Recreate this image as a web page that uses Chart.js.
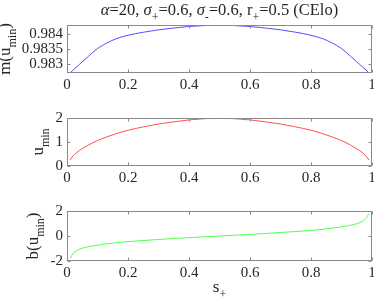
<!DOCTYPE html>
<html><head><meta charset="utf-8">
<script src="https://cdn.jsdelivr.net/npm/chart.js@4/dist/chart.umd.min.js"></script>
<style>
html,body{margin:0;padding:0;background:#fff;}
#wrap{position:relative;width:374px;height:303px;overflow:hidden;}
.c{position:absolute;left:0;width:374px;}
</style></head><body>
<div id="wrap">
<div class="c" style="top:0;height:95px"><canvas id="c1"></canvas></div>
<div class="c" style="top:95px;height:95px"><canvas id="c2"></canvas></div>
<div class="c" style="top:190px;height:113px"><canvas id="c3"></canvas></div>
</div>
<script>
// ---- data ----
const sPlus   = [0.01,0.02,0.03,0.04,0.05,0.07,0.10,0.13,0.16,0.20,0.25,0.30,0.35,0.40,0.45,0.50,
                 0.55,0.60,0.65,0.70,0.75,0.80,0.84,0.87,0.90,0.93,0.95,0.96,0.97,0.98,0.99];
const mValues = [0.98271,0.98281,0.98290,0.98299,0.98308,0.98326,0.98352,0.98370,0.98384,0.98396,0.98406,0.98414,0.98420,0.98425,0.98428,0.98430,
                 0.98428,0.98425,0.98420,0.98414,0.98406,0.98396,0.98384,0.98370,0.98352,0.98326,0.98308,0.98299,0.98290,0.98281,0.98271];
const uValues = [0.25,0.42,0.54,0.64,0.72,0.87,1.06,1.21,1.34,1.49,1.63,1.75,1.84,1.92,1.97,1.99,
                 1.97,1.92,1.84,1.75,1.63,1.49,1.34,1.21,1.06,0.87,0.72,0.64,0.54,0.42,0.25];
const bValues = [-1.8,-1.4,-1.2,-1.07,-0.98,-0.86,-0.73,-0.63,-0.54,-0.45,-0.36,-0.28,-0.2,-0.13,-0.065,0,
                 0.065,0.13,0.2,0.28,0.36,0.45,0.54,0.63,0.73,0.86,0.98,1.07,1.2,1.4,1.8];
const xTicks = [0,0.2,0.4,0.6,0.8,1];
const mTicks = [0.983,0.9835,0.984];
const uTicks = [0,1,2];
const bTicks = [-2,0,2];

const FONT = 'Liberation Serif';
const TXT = '#262626';
const AX = '#8a8a8a';

function drawRich(ctx, parts, cx, y, size){
  const sub = Math.round(size*0.72);
  const fontOf = p => (p.it?'italic ':'') + (p.sub?sub:size) + 'px "' + FONT + '"';
  let w = 0;
  parts.forEach(p => { ctx.font = fontOf(p); w += ctx.measureText(p.t).width; });
  let x = cx - w/2;
  ctx.textAlign = 'left'; ctx.textBaseline = 'alphabetic';
  parts.forEach(p => {
    ctx.font = fontOf(p);
    ctx.fillText(p.t, x, y + (p.sub ? size*0.38 : 0));
    x += ctx.measureText(p.t).width;
  });
}

const decoPlugin = {
  id: 'deco',
  afterDraw(chart, args, o){
    const {ctx, chartArea:a, scales:{x, y}} = chart;
    ctx.save();
    ctx.strokeStyle = AX; ctx.lineWidth = 1;
    const L = Math.round(a.left)+0.5, R = Math.round(a.right)-0.5, T = Math.round(a.top)+0.5, B = Math.round(a.bottom)-0.5;
    ctx.strokeRect(L, T, R-L, B-T);
    ctx.beginPath();
    xTicks.forEach(v => { const px = Math.round(x.getPixelForValue(v))+0.5;
      ctx.moveTo(px, B); ctx.lineTo(px, B-3); ctx.moveTo(px, T); ctx.lineTo(px, T+3); });
    o.yt.forEach(v => { const py = Math.round(y.getPixelForValue(v))+0.5;
      ctx.moveTo(L, py); ctx.lineTo(L+3, py); ctx.moveTo(R, py); ctx.lineTo(R-3, py); });
    ctx.stroke();
    ctx.fillStyle = TXT;
    ctx.save();
    ctx.translate(o.ylx, (a.top+a.bottom)/2);
    ctx.rotate(-Math.PI/2);
    drawRich(ctx, o.ylabel, 0, 0, 17);
    ctx.restore();
    if (o.title) {
      drawRich(ctx, [
        {t:'α', it:true},{t:'=20, '},{t:'σ', it:true},{t:'+', sub:true},{t:'=0.6, '},
        {t:'σ', it:true},{t:'-', sub:true},{t:'=0.6, r'},{t:'+', sub:true},{t:'=0.5 (CElo)'}
      ], (a.left+a.right)/2, 15, 16.5);
    }
    if (o.xlabel) {
      drawRich(ctx, [{t:'s'},{t:'+', sub:true}], (a.left+a.right)/2, 102, 17);
    }
    ctx.restore();
  }
};

function makeChart(id, vals, color, ymin, ymax, yt, padTop, xh, decoOpts){
  const data = sPlus.map((s,i) => ({x:s, y:vals[i]}));
  return new Chart(document.getElementById(id), {
    type: 'line',
    data: { datasets: [{ data, borderColor: color, borderWidth: 1, pointRadius: 0,
      cubicInterpolationMode: 'monotone', fill: false }] },
    options: {
      responsive: true, maintainAspectRatio: false, animation: false, devicePixelRatio: 1,
      layout: { padding: { top: padTop, left: 0, right: 2, bottom: 0 } },
      plugins: { legend: {display:false}, tooltip: {enabled:false}, title:{display:false}, deco: decoOpts },
      scales: {
        x: { type:'linear', min:0, max:1,
          afterBuildTicks: s => { s.ticks = xTicks.map(v => ({value:v})); },
          afterFit: s => { s.height = xh; s.paddingLeft = 0; s.paddingRight = 0; },
          ticks: { font:{family:FONT, size:15}, color:TXT, padding:3, maxRotation:0, autoSkip:false,
                   callback: v => String(v) },
          grid: { display:false, drawTicks:false }, border: { display:false } },
        y: { min:ymin, max:ymax,
          afterBuildTicks: s => { s.ticks = yt.map(v => ({value:v})); },
          afterFit: s => { s.width = 67; s.paddingTop = 0; s.paddingBottom = 0; },
          ticks: { font:{family:FONT, size:15}, color:TXT, padding:4, autoSkip:false,
                   callback: v => String(v) },
          grid: { display:false, drawTicks:false }, border: { display:false } }
      }
    },
    plugins: [decoPlugin]
  });
}

makeChart('c1', mValues, 'rgb(80,80,255)', 0.98271, 0.98430, mTicks, 25, 22,
  {yt:mTicks, ylx:10, title:true, ylabel:[{t:'m(u'},{t:'min',sub:true},{t:')'}]});
makeChart('c2', uValues, 'rgb(255,80,80)', 0, 2, uTicks, 23, 24,
  {yt:uTicks, ylx:43, ylabel:[{t:'u'},{t:'min',sub:true}]});
makeChart('c3', bValues, 'rgb(80,255,80)', -2, 2, bTicks, 21, 42,
  {yt:bTicks, ylx:38, xlabel:true, ylabel:[{t:'b(u'},{t:'min',sub:true},{t:')'}]});
</script>
</body></html>
